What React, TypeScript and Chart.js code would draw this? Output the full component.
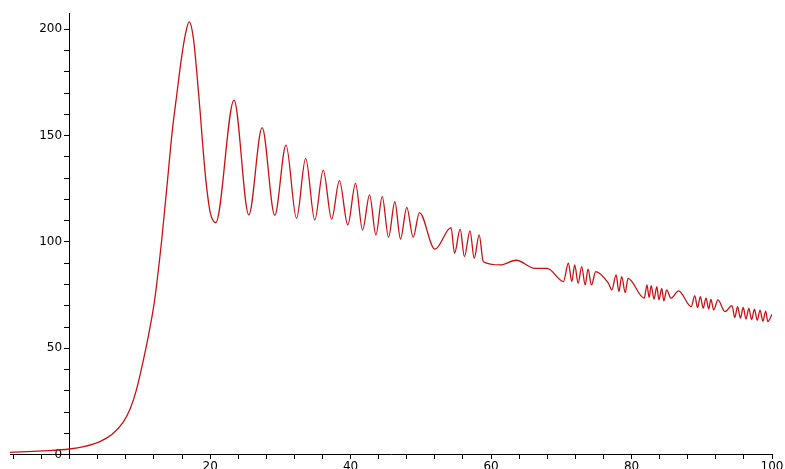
import React, { useEffect, useRef } from "react";
import { Chart, registerables } from "chart.js";

Chart.register(...registerables);

// curve samples (x, y)
const xValues = [
  -8.5, -4, 0, 2, 4.3, 6, 7.6, 8.6, 9.5, 10.9, 11.5, 12.1, 13.1, 13.9, 14.6, 15.2, 15.9, 16.5, 17.0,
  17.6, 18.4, 19.3, 20.0, 20.8, 23.4, 25.5, 27.4, 29.2, 30.8, 32.3, 33.6, 34.9, 36.1, 37.3, 38.4, 39.6,
  40.7, 41.7, 42.7, 43.6, 44.5, 45.4, 46.3, 47.1, 48.0, 48.9, 49.8, 52.0, 54.3, 54.8,
  55.6, 56.2, 57.0, 57.6, 58.3, 58.9, 61.3, 63.6, 66.2, 68.0, 70.3, 71.0, 71.5, 71.9,
  72.4, 72.9, 73.4, 73.8, 74.3, 74.9, 76.7, 77.2, 77.8, 78.2, 78.6, 79.1, 79.5, 81.8,
  82.2, 82.5, 82.8, 83.2, 83.6, 83.9, 84.3, 84.6, 85.0, 85.6, 86.7, 88.5, 89.0, 89.4,
  89.8, 90.2, 90.6, 91.0, 91.3, 91.7, 92.3, 93.3, 94.3, 94.7, 95.1, 95.5, 95.9, 96.3,
  96.7, 97.1, 97.5, 97.9, 98.3, 98.7, 99.1, 99.4, 100,
];
const yValues = [
  1.1, 1.8, 2.7, 3.8, 6.2, 9.5, 15.2, 21.5, 30.5, 50.8, 61.0, 72.8, 100.9, 128, 152, 168, 186, 198, 203.4,
  196, 168, 132, 114, 109.1, 166.7, 112.7, 153.7, 112.5, 145.5, 111.1, 139.3, 110.3, 133.8, 110.7, 128.8, 108.0,
  127.5, 105.6, 122.1, 103.3, 121.3, 102.2, 118.9, 101.4, 116.3, 102.2, 113.8, 96.6, 106.7, 94.7,
  106.0, 93.1, 105.2, 92.3, 103.3, 90.7, 89.2, 91.4, 87.6, 87.6, 81.4, 90.0, 81.4, 89.2,
  80.6, 88.4, 79.8, 87.2, 79.8, 86.1, 80.6, 77.5, 84.5, 76.7, 83.7, 76.2, 82.9, 73.6,
  79.8, 73.9, 79.5, 73.1, 79.0, 72.8, 78.2, 72.3, 77.5, 73.6, 77.0, 69.6, 74.8, 69.2,
  74.3, 68.9, 73.6, 68.5, 73.0, 68.1, 72.8, 67.3, 70.1, 64.5, 69.6, 64.2, 69.2, 63.8,
  68.8, 63.5, 68.4, 63.2, 68.0, 62.8, 67.5, 62.6, 66.0,
];

// axis ticks
const xTicks = [-8, -4, 0, 4, 8, 12, 16, 20, 24, 28, 32, 36, 40, 44, 48, 52, 56, 60, 64, 68, 72, 76, 80, 84, 88, 92, 96, 100];
const xLabels = [20, 40, 60, 80, 100];
const yTicks = [0, 10, 20, 30, 40, 50, 60, 70, 80, 90, 100, 110, 120, 130, 140, 150, 160, 170, 180, 190, 200];
const yLabels = [0, 50, 100, 150, 200];

export default function App() {
  const ref = useRef<HTMLCanvasElement | null>(null);
  useEffect(() => {
    if (!ref.current) return;
    const data = xValues.map((x, i) => ({ x, y: yValues[i] }));
    const font = { family: "DejaVu Sans", size: 12 };
    const chart = new Chart(ref.current, {
      type: "line",
      data: {
        datasets: [
          {
            data,
            borderColor: "rgb(200,18,18)",
            borderWidth: 1.3,
            pointRadius: 0,
            cubicInterpolationMode: "monotone",
            fill: false,
          },
        ],
      },
      options: {
        animation: false,
        responsive: false,
        devicePixelRatio: 1,
        layout: { padding: { left: 10, right: 13, top: 13, bottom: 10 } },
        plugins: { legend: { display: false }, tooltip: { enabled: false } },
        scales: {
          x: {
            type: "linear",
            min: -8.5,
            max: 100,
            position: { y: 0 } as any,
            afterBuildTicks: (s: any) => {
              s.ticks = xTicks.map((v) => ({ value: v }));
            },
            ticks: {
              autoSkip: false,
              maxRotation: 0,
              padding: 1,
              color: "#000",
              font,
              callback: (v: any) => (xLabels.includes(Number(v)) ? String(v) : ""),
            },
            grid: { display: true, drawOnChartArea: false, drawTicks: true, tickLength: 4, color: "#000" },
            border: { display: true, color: "#000", width: 1 },
          },
          y: {
            type: "linear",
            min: -1.9,
            max: 207.6,
            position: { x: 0 } as any,
            afterBuildTicks: (s: any) => {
              s.ticks = yTicks.map((v) => ({ value: v }));
            },
            ticks: {
              autoSkip: false,
              padding: 3,
              color: "#000",
              font,
              callback: (v: any) => (yLabels.includes(Number(v)) ? String(v) + "  " : ""),
            },
            grid: { display: true, drawOnChartArea: false, drawTicks: true, tickLength: 5, color: "#000" },
            border: { display: true, color: "#000", width: 1 },
          },
        },
      },
    });
    return () => chart.destroy();
  }, []);
  return (
    <div style={{ position: "absolute", left: 0, top: 0, width: 785, height: 469, background: "#fff" }}>
      <canvas ref={ref} width={785} height={469} style={{ width: 785, height: 469, display: "block" }} />
    </div>
  );
}
